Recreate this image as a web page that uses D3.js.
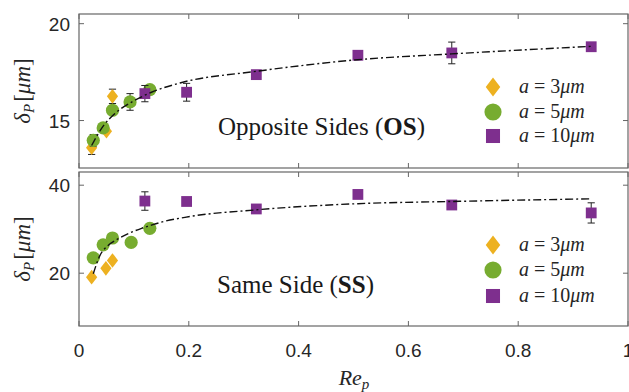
<!DOCTYPE html>
<html><head><meta charset="utf-8">
<script src="https://cdn.jsdelivr.net/npm/d3@7"></script>
<style>body{margin:0;background:#fff}svg{display:block}
.ser{font-family:"Liberation Serif","DejaVu Serif","Noto Serif",serif}
.san{font-family:"Liberation Sans",Arial,sans-serif}</style>
</head><body>
<svg id="c" width="629" height="392"></svg>
<script>
// ---------- data ----------
const xTicks = [0, 0.2, 0.4, 0.6, 0.8, 1];
const xTickLabels = ["0", "0.2", "0.4", "0.6", "0.8", "1"];
const osYTicks = [15, 20];
const ssYTicks = [20, 40];

// Opposite Sides
const os3x = [0.023, 0.050, 0.061];
const os3y = [13.60, 14.45, 16.25];
const os3e = [0.35, 0, 0.37];
const os5x = [0.026, 0.044, 0.061, 0.093, 0.129];
const os5y = [13.98, 14.62, 15.53, 15.96, 16.60];
const os5e = [0.30, 0, 0, 0.43, 0];
const os10x = [0.120, 0.196, 0.323, 0.508, 0.679, 0.933];
const os10y = [16.39, 16.46, 17.37, 18.37, 18.49, 18.81];
const os10e = [0.42, 0.46, 0, 0, 0.56, 0];
const osFitX = [0.023, 0.044, 0.065, 0.099, 0.132, 0.184, 0.323, 0.508, 0.679, 0.932];
const osFitY = [13.71, 14.71, 15.35, 16.00, 16.46, 16.94, 17.54, 18.14, 18.44, 18.83];

// Same Side
const ss3x = [0.023, 0.049, 0.061];
const ss3y = [19.1, 21.1, 22.9];
const ss3e = [0, 0, 0];
const ss5x = [0.026, 0.044, 0.061, 0.095, 0.129];
const ss5y = [23.5, 26.45, 28.0, 27.0, 30.2];
const ss5e = [0, 0, 0, 0, 0];
const ss10x = [0.120, 0.196, 0.323, 0.508, 0.679, 0.933];
const ss10y = [36.4, 36.3, 34.6, 37.9, 35.5, 33.7];
const ss10e = [2.1, 0, 0, 0, 0, 2.3];
const ssFitX = [0.026, 0.038, 0.053, 0.071, 0.114, 0.129, 0.150, 0.193, 0.323, 0.508, 0.679, 0.932];
const ssFitY = [19.86, 24.0, 26.3, 27.8, 30.2, 30.8, 31.6, 32.7, 34.4, 35.8, 36.3, 36.9];

const legendLabels = ["3", "5", "10"];

// ---------- style ----------
const C3 = "#EDB120", C5 = "#77AC30", C10 = "#7E2F8E";
const axisCol = "#666";

const svg = d3.select("#c");
const x = d3.scaleLinear().domain([0, 1]).range([79, 628]);

const panels = [
  {top: 14, bottom: 168, dom: [12.55, 20.5], ticks: osYTicks, labels: false,
   series: [[os3x, os3y, os3e, "d", C3], [os5x, os5y, os5e, "c", C5], [os10x, os10y, os10e, "s", C10]],
   fitX: osFitX, fitY: osFitY,
   title: ["Opposite Sides (", "OS", ")"], titleX: 218, titleY: 135, legY: [87, 112, 136]},
  {top: 172, bottom: 326, dom: [8, 43], ticks: ssYTicks, labels: true,
   series: [[ss3x, ss3y, ss3e, "d", C3], [ss5x, ss5y, ss5e, "c", C5], [ss10x, ss10y, ss10e, "s", C10]],
   fitX: ssFitX, fitY: ssFitY,
   title: ["Same Side (", "SS", ")"], titleX: 217, titleY: 293, legY: [245, 270, 296]}
];

function marker(g, type, cx, cy, col, k) {
  if (type === "d") {
    const w = 5.6 * k, h = 7.3 * k;
    g.append("path").attr("d", `M${cx},${cy - h}L${cx + w},${cy}L${cx},${cy + h}L${cx - w},${cy}Z`).attr("fill", col);
  } else if (type === "c") {
    g.append("circle").attr("cx", cx).attr("cy", cy).attr("r", 6.6 * k).attr("fill", col);
  } else {
    const s = 5.4 * k;
    g.append("rect").attr("x", cx - s).attr("y", cy - s).attr("width", 2 * s).attr("height", 2 * s).attr("fill", col);
  }
}

panels.forEach(p => {
  const y = d3.scaleLinear().domain(p.dom).range([p.bottom, p.top]);
  const g = svg.append("g");
  g.append("rect").attr("x", x(0)).attr("y", p.top).attr("width", x(1) - x(0)).attr("height", p.bottom - p.top)
    .attr("fill", "none").attr("stroke", axisCol).attr("stroke-width", 1.2);
  xTicks.forEach((t, i) => {
    g.append("line").attr("x1", x(t)).attr("x2", x(t)).attr("y1", p.bottom).attr("y2", p.bottom - 5).attr("stroke", axisCol);
    g.append("line").attr("x1", x(t)).attr("x2", x(t)).attr("y1", p.top).attr("y2", p.top + 5).attr("stroke", axisCol);
    if (p.labels) {
      g.append("text").attr("class", "san").attr("x", x(t)).attr("y", 357).attr("text-anchor", "middle")
        .attr("font-size", 19).attr("fill", "#262626").text(xTickLabels[i]);
    }
  });
  p.ticks.forEach(t => {
    g.append("line").attr("x1", x(0)).attr("x2", x(0) + 5).attr("y1", y(t)).attr("y2", y(t)).attr("stroke", axisCol);
    g.append("line").attr("x1", x(1)).attr("x2", x(1) - 5).attr("y1", y(t)).attr("y2", y(t)).attr("stroke", axisCol);
    g.append("text").attr("class", "san").attr("x", 70).attr("y", y(t) + 7).attr("text-anchor", "end")
      .attr("font-size", 19).attr("fill", "#262626").text(String(t));
  });
  // y label
  const yl = g.append("text").attr("class", "ser").attr("transform", `translate(30,${(p.top + p.bottom) / 2}) rotate(-90)`)
    .attr("text-anchor", "middle").attr("font-size", 23).attr("fill", "#262626");
  yl.append("tspan").attr("font-style", "italic").text("δ");
  yl.append("tspan").attr("font-style", "italic").attr("font-size", 15).attr("dy", 4).text("P");
  yl.append("tspan").attr("dy", -4).attr("dx", 2).text("[");
  yl.append("tspan").attr("font-style", "italic").text("μm");
  yl.append("tspan").text("]");

  p.series.forEach(([xs, ys, es, type, col]) => {
    xs.forEach((xv, i) => {
      if (es[i] > 0) {
        const cx = x(xv), y1 = y(ys[i] - es[i]), y2 = y(ys[i] + es[i]);
        g.append("line").attr("x1", cx).attr("x2", cx).attr("y1", y1).attr("y2", y2).attr("stroke", "#222").attr("stroke-width", 1);
        [y1, y2].forEach(yy => g.append("line").attr("x1", cx - 3.6).attr("x2", cx + 3.6).attr("y1", yy).attr("y2", yy).attr("stroke", "#222").attr("stroke-width", 1));
      }
      marker(g, type, x(xv), y(ys[i]), col, 1);
    });
  });
  const line = d3.line().x(d => x(d[0])).y(d => y(d[1])).curve(d3.curveMonotoneX);
  g.append("path").attr("d", line(p.fitX.map((v, i) => [v, p.fitY[i]])))
    .attr("fill", "none").attr("stroke", "#111").attr("stroke-width", 1.4).attr("stroke-dasharray", "8,3,2,3");

  const tt = g.append("text").attr("class", "ser").attr("x", p.titleX).attr("y", p.titleY).attr("font-size", 25).attr("fill", "#1a1a1a");
  tt.append("tspan").text(p.title[0]);
  tt.append("tspan").attr("font-weight", "bold").text(p.title[1]);
  tt.append("tspan").text(p.title[2]);

  p.series.forEach(([, , , type, col], i) => {
    const ly = p.legY[i];
    marker(g, type, 493, ly, col, 1.3);
    const t = g.append("text").attr("class", "ser").attr("x", 519).attr("y", ly + 6).attr("font-size", 20).attr("fill", "#262626");
    t.append("tspan").attr("font-style", "italic").text("a");
    t.append("tspan").attr("dx", 5).text("=");
    t.append("tspan").attr("dx", 5).text(legendLabels[i]);
    t.append("tspan").attr("font-style", "italic").text("μm");
  });
});

const xl = svg.append("text").attr("class", "ser").attr("x", 354).attr("y", 385).attr("text-anchor", "middle")
  .attr("font-size", 22).attr("fill", "#262626").attr("font-style", "italic");
xl.append("tspan").text("Re");
xl.append("tspan").attr("font-size", 15).attr("dy", 4).text("p");
</script>
</body></html>
